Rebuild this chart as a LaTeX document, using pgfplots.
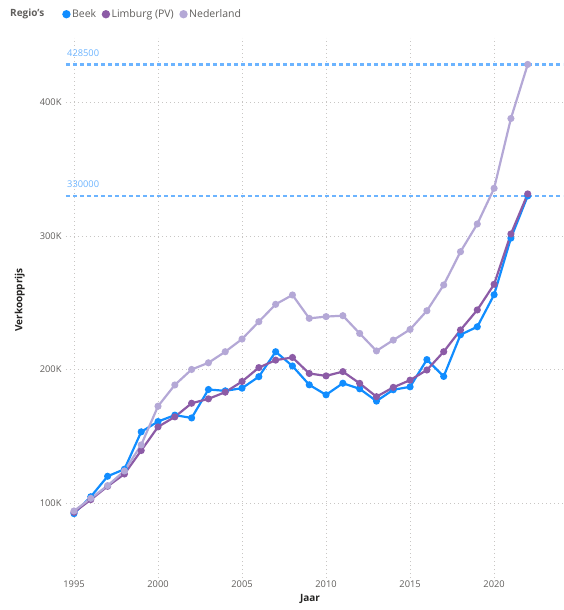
\documentclass[border=0pt]{standalone}
\usepackage{pgfplots}
\pgfplotsset{compat=1.18}
\usepackage{fontspec}
\setmainfont{Open Sans}
\definecolor{beek}{HTML}{118DFF}
\definecolor{limb}{HTML}{8C5BA6}
\definecolor{ned}{HTML}{B4A8D6}
\definecolor{refl}{HTML}{6CB4FF}
\definecolor{tick}{HTML}{605E5C}
\definecolor{lab}{HTML}{252423}
\definecolor{gridc}{HTML}{C8C6C4}
\begin{document}
\begin{tikzpicture}
\path[use as bounding box] (0,0) rectangle (563pt,610pt);
\begin{axis}[
  at={(66pt,32pt)}, anchor=south west,
  scale only axis, width=497pt, height=540pt,
  xmin=1994.524, xmax=2024.1, ymin=43800, ymax=448300,
  axis line style={draw=none}, tick style={draw=none},
  scaled y ticks=false, scaled x ticks=false,
  xtick={1995,2000,2005,2010,2015,2020},
  xticklabels={1995,2000,2005,2010,2015,2020},
  ytick={100000,200000,300000,400000},
  yticklabels={100K,200K,300K,400K},
  grid=major,
  major grid style={gridc, line width=0.8pt, dash pattern=on 0.8pt off 3.2pt},
  tick label style={font=\fontsize{9.3}{10}\selectfont, text=tick},
  xticklabel style={yshift=1pt},
  yticklabel style={xshift=-1pt},
  xlabel={Jaar}, ylabel={Verkoopprijs},
  label style={font=\fontsize{10}{11}\selectfont\bfseries, text=lab},
  xlabel style={at={(axis description cs:0.491,-0.039)}, anchor=center},
  ylabel style={at={(axis description cs:-0.093,0.515)}, anchor=center},
  legend style={at={(axis description cs:-0.008,1.044)}, anchor=west, draw=none, fill=none,
    font=\fontsize{10.5}{11}\selectfont, text=tick, legend columns=-1,
    /tikz/every even column/.append style={column sep=4pt}, inner sep=0pt,
    nodes={inner xsep=1.5pt}},
  legend image code/.code={\fill[#1, draw=none] (3pt,0pt) circle (4.2pt);},
  clip=false,
]
% reference lines
\addplot[refl, line width=2.2pt, dash pattern=on 4pt off 3pt, forget plot] coordinates {(1994.524,428500) (2024.1,428500)};
\addplot[refl, line width=2.2pt, dash pattern=on 4pt off 3pt, forget plot] coordinates {(1994.524,330000) (2024.1,330000)};
\node[anchor=south west, text=refl, font=\fontsize{9.3}{10}\selectfont, inner sep=1pt] at (axis cs:1994.524,433500) {428500};
\node[anchor=south west, text=refl, font=\fontsize{9.3}{10}\selectfont, inner sep=1pt] at (axis cs:1994.524,335000) {330000};

\addplot[beek, line width=2.2pt, mark=*, mark size=2.4pt, mark options={fill=beek, draw=beek}] coordinates {
(1995,92000) (1996,104700) (1997,120000) (1998,125300) (1999,153300) (2000,161000)
(2001,165800) (2002,163700) (2003,185000) (2004,184000) (2005,186000) (2006,194600)
(2007,213300) (2008,202600) (2009,188500) (2010,181000) (2011,189700) (2012,185500)
(2013,176300) (2014,184800) (2015,187000) (2016,207400) (2017,194800) (2018,226000)
(2019,232000) (2020,256000) (2021,298400) (2022,330000)};
\addlegendentry{Beek}
\addplot[limb, line width=2.2pt, mark=*, mark size=2.4pt, mark options={fill=limb, draw=limb}] coordinates {
(1995,93000) (1996,102500) (1997,112500) (1998,121700) (1999,139300) (2000,157000)
(2001,164500) (2002,174700) (2003,178000) (2004,183000) (2005,191000) (2006,201400)
(2007,207000) (2008,209000) (2009,197000) (2010,195200) (2011,198400) (2012,189600)
(2013,179600) (2014,186600) (2015,192000) (2016,199600) (2017,213300) (2018,229600)
(2019,244600) (2020,263800) (2021,301500) (2022,331500)};
\addlegendentry{Limburg (PV)}
\addplot[ned, line width=2.2pt, mark=*, mark size=2.4pt, mark options={fill=ned, draw=ned}] coordinates {
(1995,94000) (1996,103500) (1997,113000) (1998,124000) (1999,143500) (2000,172500)
(2001,188400) (2002,200000) (2003,205000) (2004,213300) (2005,222800) (2006,235800)
(2007,248800) (2008,255800) (2009,238300) (2010,239600) (2011,240300) (2012,227000)
(2013,213900) (2014,222000) (2015,230000) (2016,244000) (2017,263300) (2018,288200)
(2019,309000) (2020,335700) (2021,388000) (2022,428500)};
\addlegendentry{Nederland}
\node[anchor=west, font=\fontsize{10}{11}\selectfont\bfseries, text=tick, inner sep=0pt] at (axis description cs:-0.1127,1.044) {Regio's};
\end{axis}
\end{tikzpicture}
\end{document}
